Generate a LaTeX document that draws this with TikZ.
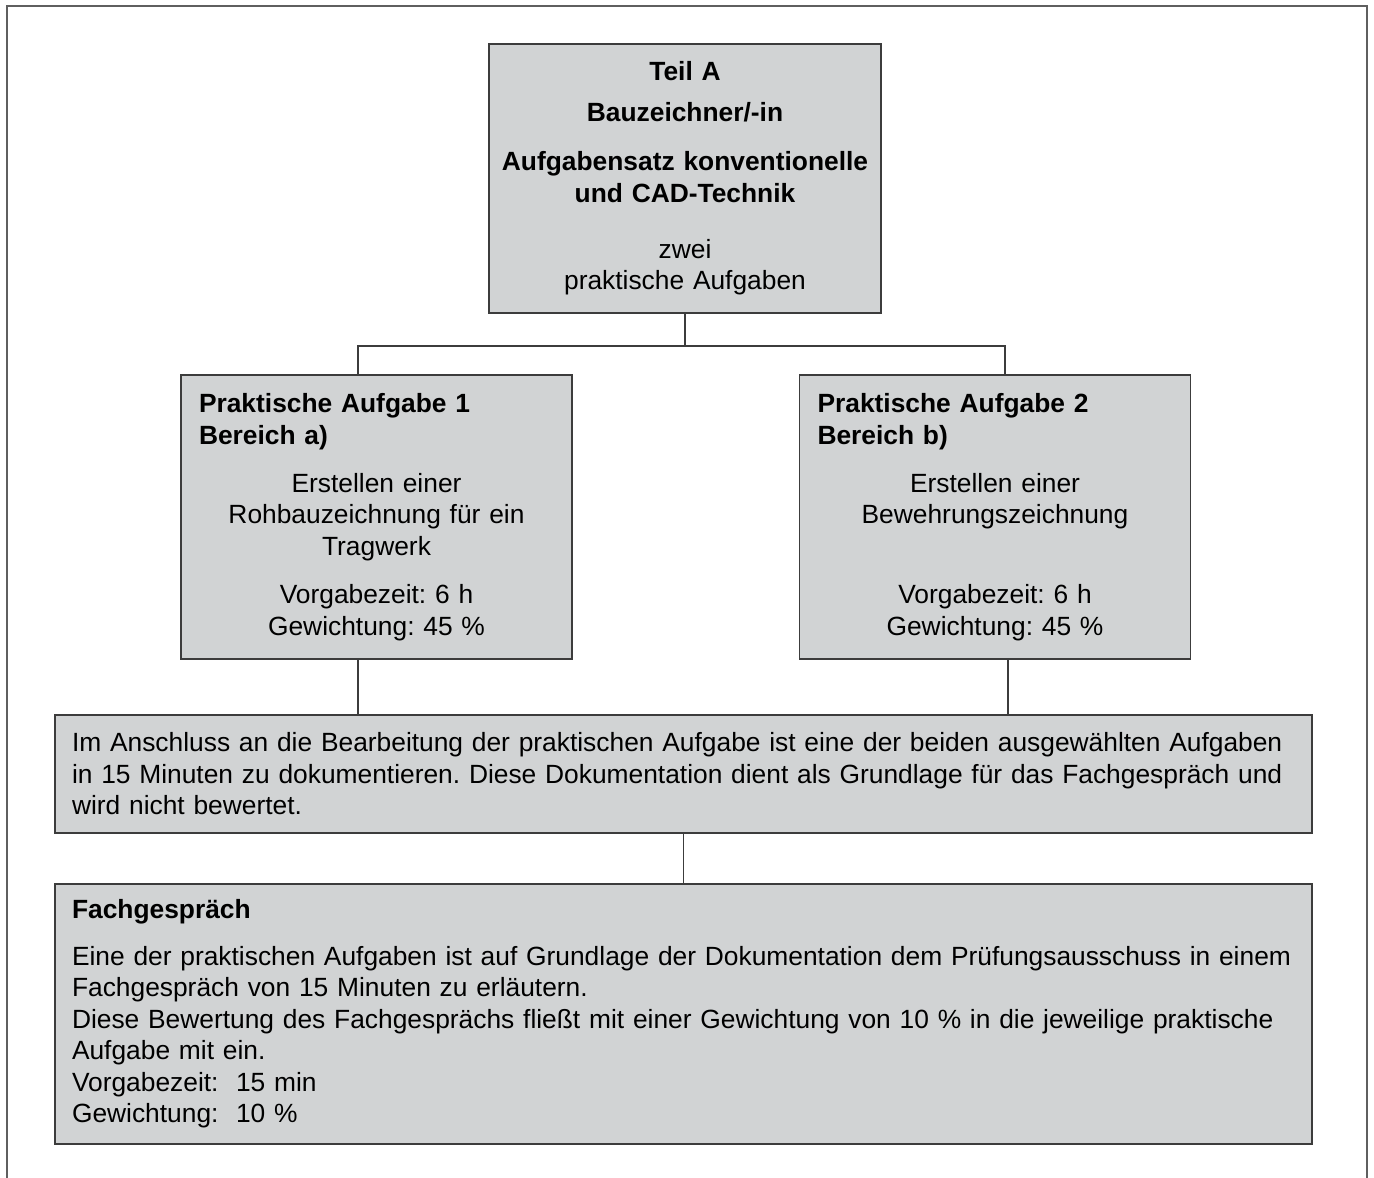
\documentclass[tikz,border=0pt]{standalone}
\usepackage{fontspec}
\setmainfont{Liberation Sans}
\definecolor{boxgray}{RGB}{209, 211, 212}
\definecolor{linegray}{RGB}{60, 60, 60}
\definecolor{framegray}{RGB}{95, 95, 95}
\usepackage{tikz}
\usetikzlibrary{positioning}
\frenchspacing
\hyphenpenalty=10000
\exhyphenpenalty=10000

\begin{document}
\begin{tikzpicture}[
					txt/.style={font=\fontsize{15}{17.9}\selectfont},
					box/.style={draw=linegray, line width=1pt, fill=boxgray, txt,
						align=center, inner xsep=0.3cm},
					task/.style={box, minimum width=7.82cm, minimum height=5.68cm, text width=7.1cm},
					wide/.style={box, align=left, inner xsep=0.2cm, minimum width=25.14cm, text width=24.74cm},
					conn/.style={draw=linegray, line width=0.8pt},
					frame/.style={draw=framegray, line width=1.6pt}
					]
					\useasboundingbox (0,0) rectangle (27.48,-23.56);
					\draw[frame] (0.14,-23.56) |- (27.34,-0.12) -- (27.34,-23.56);
					
					\node[box, inner xsep=0.1cm, minimum width=7.84cm, minimum height=5.38cm, text width=7.64cm]
						(top) at (13.7,-3.57)
						{\textbf{Teil A}\\[5.5pt]
						 \textbf{Bauzeichner/-in}\\[10pt]
						 \textbf{Aufgabensatz konventionelle}\\
						 \textbf{und CAD-Technik}\\[14pt]
						 zwei\\
						 praktische Aufgaben};
					\node[task] (task1) at (7.53,-10.34)
						{\makebox[\linewidth][l]{\textbf{Praktische Aufgabe 1}}\\
						 \makebox[\linewidth][l]{\textbf{Bereich a)}}\\[9.6pt]
						 Erstellen einer\\
						 Rohbauzeichnung für ein\\
						 Tragwerk\\[9.6pt]
						 Vorgabezeit: 6 h\\
						 Gewichtung: 45 \%};
					\node[task] (task2) at (19.9,-10.34)
						{\makebox[\linewidth][l]{\textbf{Praktische Aufgabe 2}}\\
						 \makebox[\linewidth][l]{\textbf{Bereich b)}}\\[9.6pt]
						 Erstellen einer\\
						 Bewehrungszeichnung\\
						 ~\\[9.6pt]
						 Vorgabezeit: 6 h\\
						 Gewichtung: 45 \%};
					\node[wide, minimum height=2.36cm] (doku) at (13.67,-15.48)
						{\hspace*{0.14cm}Im Anschluss an die Bearbeitung der praktischen Aufgabe ist eine der beiden ausgewählten Aufgaben\\
						 \hspace*{0.14cm}in 15 Minuten zu dokumentieren. Diese Dokumentation dient als Grundlage für das Fachgespräch und\\
						 \hspace*{0.14cm}wird nicht bewertet.};
					\node[wide, minimum height=5.2cm] (fach) at (13.67,-20.28)
						{\hspace*{0.14cm}\textbf{Fachgespräch}\\[8.5pt]
						 \hspace*{0.14cm}Eine der praktischen Aufgaben ist auf Grundlage der Dokumentation dem Prüfungsausschuss in einem\\
						 \hspace*{0.14cm}Fachgespräch von 15 Minuten zu erläutern.\\
						 \hspace*{0.14cm}Diese Bewertung des Fachgesprächs fließt mit einer Gewichtung von 10 \% in die jeweilige praktische\\
						 \hspace*{0.14cm}Aufgabe mit ein.\\
						 \hspace*{0.14cm}Vorgabezeit:\ \ 15 min\\
						 \hspace*{0.14cm}Gewichtung:\ \ 10 \%};
					
					\draw[conn] (top.south) -- ++(0,-0.64) coordinate (split);
					\draw[conn] ([xshift=-3.7mm]task1.north) |- (split) -| ([xshift=2mm]task2.north);
					\draw[conn] ([xshift=-3.7mm]task1.south) -- ([xshift=-3.7mm]task1.south |- doku.north);
					\draw[conn] ([xshift=2.6mm]task2.south) -- ([xshift=2.6mm]task2.south |- doku.north);
					\draw[conn] (doku.south) -- (fach.north);
				\end{tikzpicture}
\end{document}
